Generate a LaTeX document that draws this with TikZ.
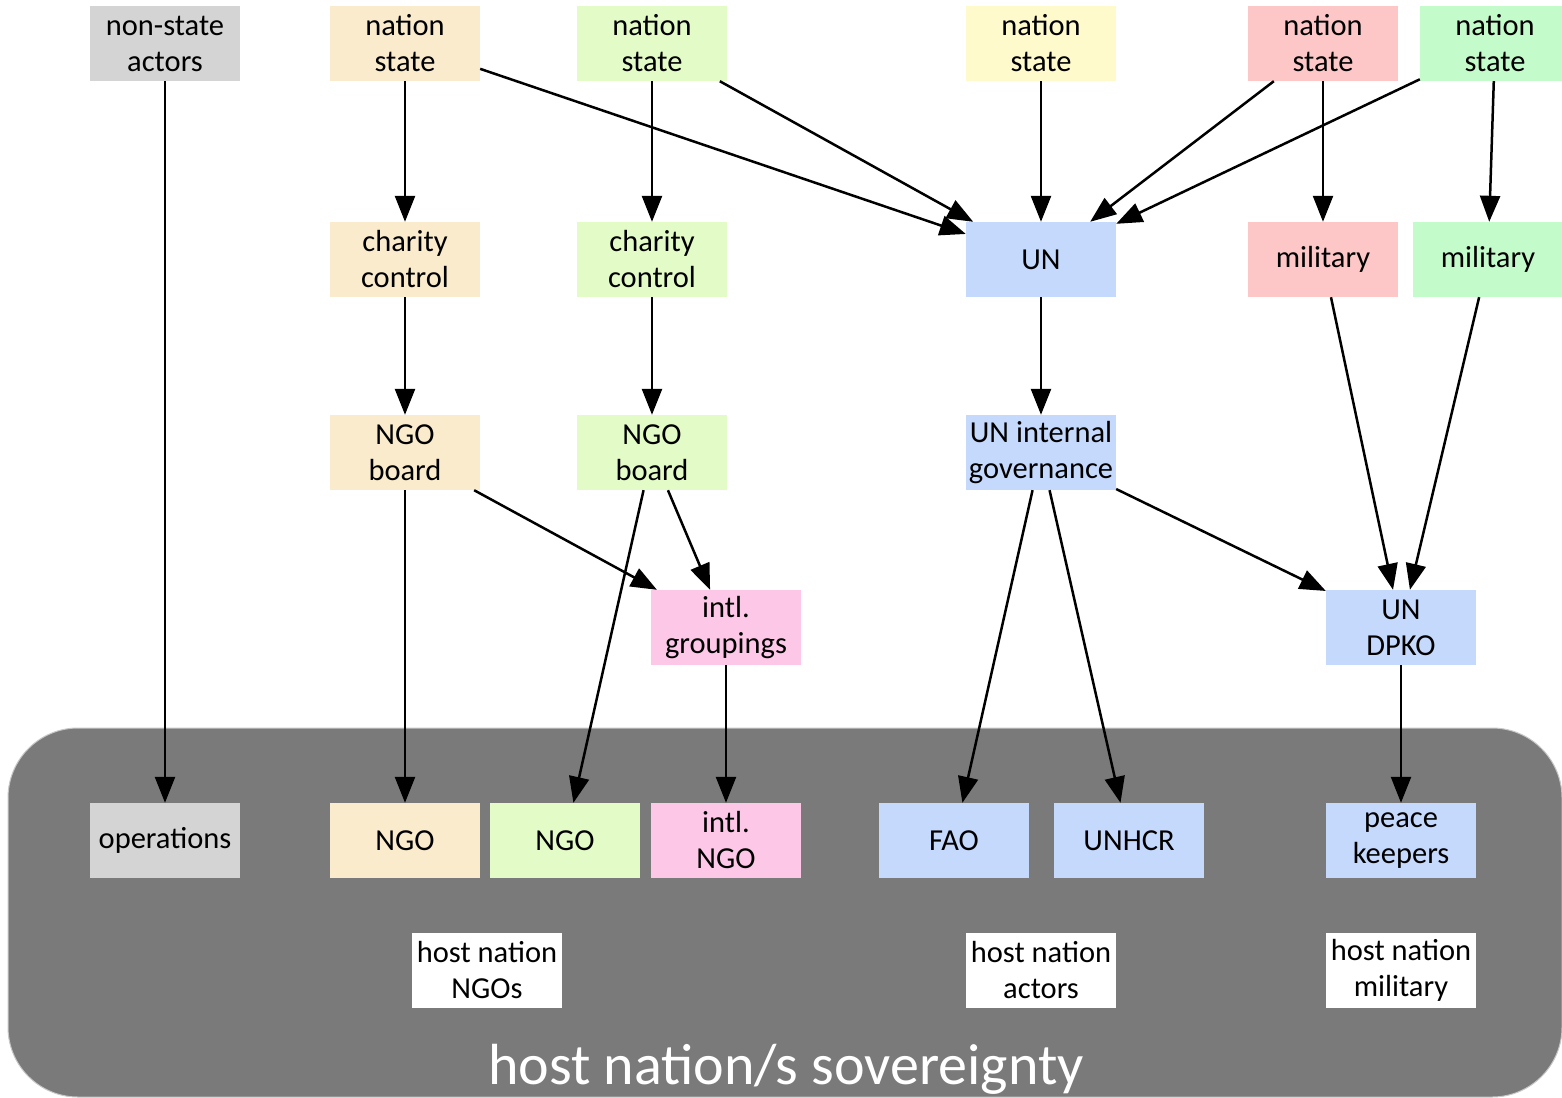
\documentclass[tikz,border=0pt]{standalone}
\usepackage{fontspec}
\setmainfont{Carlito}
\usetikzlibrary{arrows.meta}
\definecolor{cgray}{HTML}{D4D4D4}
\definecolor{ctan}{HTML}{F9EBCB}
\definecolor{clime}{HTML}{E3FBC6}
\definecolor{cyel}{HTML}{FEFACB}
\definecolor{cred}{HTML}{FDC7C7}
\definecolor{cgreen}{HTML}{C4FBCB}
\definecolor{cblue}{HTML}{C5D9FD}
\definecolor{cpink}{HTML}{FDC8E7}
\definecolor{cdark}{HTML}{7A7A7A}
\tikzset{
  box/.style={rectangle, minimum width=150pt, minimum height=75pt, inner sep=0pt,
    align=center, font=\fontsize{30.5}{36}\selectfont},
  arr/.style={line width=2.5pt, -{Triangle[length=26pt,width=20pt]}}
}
\begin{document}
\begin{tikzpicture}[x=1pt,y=-1pt]
\clip (0,0) rectangle (1562,1097);
\fill[white] (0,0) rectangle (1562,1097);
\filldraw[fill=cdark, draw=black!22, line width=1pt, rounded corners=70pt] (8,728) rectangle (1562,1097);
\node[anchor=base, text=white, font=\fontsize{58}{64}\selectfont] (title) at (786,1084) {host nation/s sovereignty};

% row 1
\node[box, fill=cgray] (ns) at (165,43.5) {non-state\\actors};
\node[box, fill=ctan] (n1) at (405,43.5) {nation\\state};
\node[box, fill=clime] (n2) at (652,43.5) {nation\\state};
\node[box, fill=cyel] (n3) at (1041,43.5) {nation\\state};
\node[box, fill=cred] (n4) at (1323,43.5) {nation\\state};
\node[box, fill=cgreen] (n5) at (1495,43.5) {nation\\state};
% row 2
\node[box, fill=ctan] (c1) at (405,259.5) {charity\\control};
\node[box, fill=clime] (c2) at (652,259.5) {charity\\control};
\node[box, fill=cblue] (un) at (1041,259.5) {UN};
\node[box, fill=cred] (m1) at (1323,259.5) {military};
\node[box, fill=cgreen] (m2) at (1488,259.5) {military};
% row 3
\node[box, fill=ctan] (b1) at (405,452.5) {NGO\\board};
\node[box, fill=clime] (b2) at (652,452.5) {NGO\\board};
\node[box, fill=cblue] (ung) at (1041,452.5) {UN internal\\governance};
% row 4
\node[box, fill=cpink] (ig) at (726,627.5) {intl.\\groupings};
\node[box, fill=cblue] (dpko) at (1401,627.5) {UN\\DPKO};
% row 5
\node[box, fill=cgray] (op) at (165,840.5) {operations};
\node[box, fill=ctan] (g1) at (405,840.5) {NGO};
\node[box, fill=clime] (g2) at (565,840.5) {NGO};
\node[box, fill=cpink] (ingo) at (726,840.5) {intl.\\NGO};
\node[box, fill=cblue] (fao) at (954,840.5) {FAO};
\node[box, fill=cblue] (unhcr) at (1129,840.5) {UNHCR};
\node[box, fill=cblue] (pk) at (1401,840.5) {peace\\keepers};
% row 6
\node[box, fill=white] (l1) at (487,970) {host nation\\NGOs};
\node[box, fill=white] (l2) at (1041,970) {host nation\\actors};
\node[box, fill=white] (l3) at (1401,970) {host nation\\military};

% edges
\draw[arr] (ns) -- (op);
\draw[arr] (n1) -- (c1);
\draw[arr] (n1) -- (un);
\draw[arr] (n2) -- (c2);
\draw[arr] (n2) -- (un);
\draw[arr] (n3) -- (un);
\draw[arr] (n4) -- (un);
\draw[arr] (n4) -- (m1);
\draw[arr] (n5) -- (un);
\draw[arr] (n5) -- (m2);
\draw[arr] (c1) -- (b1);
\draw[arr] (c2) -- (b2);
\draw[arr] (un) -- (ung);
\draw[arr] (b1) -- (g1);
\draw[arr] (b1) -- (ig);
\draw[arr] (b2) -- (g2);
\draw[arr] (b2) -- (ig);
\draw[arr] (ig) -- (ingo);
\draw[arr] (ung) -- (fao);
\draw[arr] (ung) -- (unhcr);
\draw[arr] (ung) -- (dpko);
\draw[arr] (m1) -- (dpko);
\draw[arr] (m2) -- (dpko);
\draw[arr] (dpko) -- (pk);
\end{tikzpicture}
\end{document}
